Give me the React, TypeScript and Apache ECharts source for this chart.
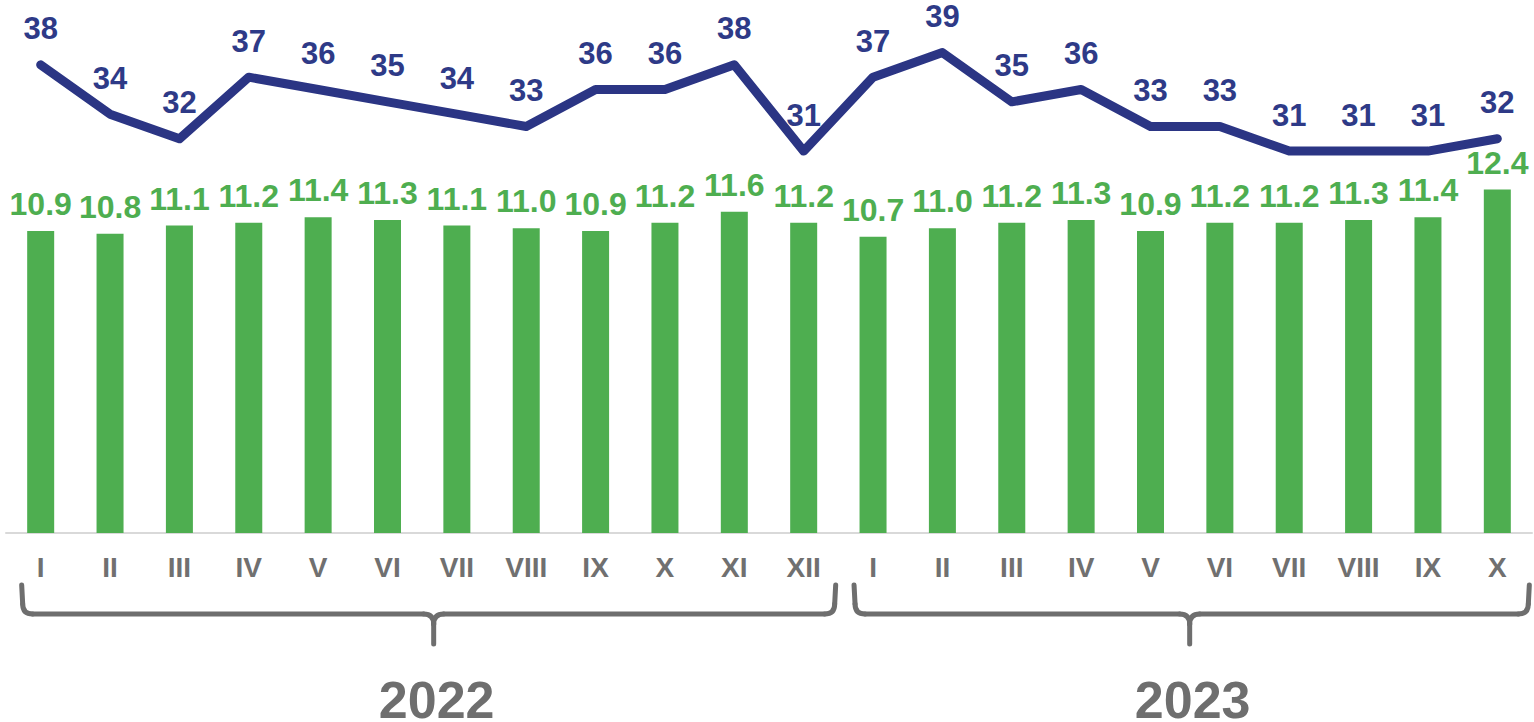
import React, { useEffect, useRef } from "react";
import * as echarts from "echarts";

const months = [
  "I", "II", "III", "IV", "V", "VI", "VII", "VIII", "IX", "X", "XI", "XII",
  "I", "II", "III", "IV", "V", "VI", "VII", "VIII", "IX", "X",
];
const barValues = [
  10.9, 10.8, 11.1, 11.2, 11.4, 11.3, 11.1, 11.0, 10.9, 11.2, 11.6, 11.2,
  10.7, 11.0, 11.2, 11.3, 10.9, 11.2, 11.2, 11.3, 11.4, 12.4,
];
const lineValues = [
  38, 34, 32, 37, 36, 35, 34, 33, 36, 36, 38, 31,
  37, 39, 35, 36, 33, 33, 31, 31, 31, 32,
];
const years = ["2022", "2023"];
const yearRanges = [
  [0, 11],
  [12, 21],
];
const bracketShift = [5, -2];

const FONT = '"Liberation Sans", Arial, sans-serif';
const GREEN = "#4EAE50";
const NAVY = "#2B3584";
const GRAY = "#6E6E6E";

export default function App() {
  const ref = useRef<HTMLDivElement>(null);

  useEffect(() => {
    if (!ref.current) return;
    const chart = echarts.init(ref.current, undefined, { renderer: "svg" });
    chart.setOption({
      animation: false,
      backgroundColor: "#ffffff",
      grid: { left: 6, right: 2, top: 30, bottom: 189, containLabel: false },
      xAxis: {
        type: "category",
        data: months,
        axisLine: { show: true, lineStyle: { color: "#D9D9D9", width: 2 } },
        axisTick: { show: false },
        axisLabel: {
          color: "#707070",
          fontFamily: FONT,
          fontWeight: "bold",
          fontSize: 28,
          margin: 20,
          interval: 0,
        },
      },
      yAxis: [
        { type: "value", min: 0, max: 18.16, show: false, splitLine: { show: false } },
        { type: "value", min: 0, max: 40.83, show: false, splitLine: { show: false } },
      ],
      series: [
        {
          type: "bar",
          data: barValues,
          yAxisIndex: 0,
          barWidth: 27,
          itemStyle: { color: GREEN },
          label: {
            show: true,
            position: "top",
            distance: 11,
            color: GREEN,
            fontFamily: FONT,
            fontWeight: "bold",
            fontSize: 32,
            formatter: (p: any) => Number(p.value).toFixed(1),
          },
        },
        {
          type: "line",
          data: lineValues,
          yAxisIndex: 1,
          symbol: "circle",
          symbolSize: 1,
          showSymbol: true,
          itemStyle: { color: NAVY },
          lineStyle: { color: NAVY, width: 9, cap: "round", join: "round" },
          label: {
            show: true,
            position: "top",
            distance: 20,
            color: "#2E3A87",
            fontFamily: FONT,
            fontWeight: "bold",
            fontSize: 31,
          },
          labelLayout: { hideOverlap: false },
          z: 3,
        },
      ],
    });

    const yTop = 585;
    const yH = 614;
    const yTick = 644;
    const r = 10;
    const st = { stroke: GRAY, lineWidth: 5, fill: "none", lineCap: "round" };
    const graphics: any[] = [];
    yearRanges.forEach(([a, b], i) => {
      const x0 = (chart.convertToPixel({ xAxisIndex: 0 }, a) as number) - 19;
      const x1 = (chart.convertToPixel({ xAxisIndex: 0 }, b) as number) + 32;
      const xc = (x0 + x1) / 2 + bracketShift[i];
      const line = (x1_: number, y1_: number, x2_: number, y2_: number) => ({
        type: "line",
        shape: { x1: x1_, y1: y1_, x2: x2_, y2: y2_ },
        style: st,
        silent: true,
      });
      const curve = (sx: number, sy: number, cx: number, cy: number, ex: number, ey: number) => ({
        type: "bezierCurve",
        shape: { x1: sx, y1: sy, cpx1: cx, cpy1: cy, x2: ex, y2: ey },
        style: st,
        silent: true,
      });
      graphics.push(
        line(x0, yTop, x0 + 1, yH - r),
        curve(x0 + 1, yH - r, x0 + 1, yH, x0 + 1 + r, yH),
        line(x0 + 1 + r, yH, xc - r, yH),
        curve(xc - r, yH, xc, yH, xc, yH + r),
        line(xc, yH + r, xc, yTick),
        curve(xc, yH + r, xc, yH, xc + r, yH),
        line(xc + r, yH, x1 - 1 - r, yH),
        curve(x1 - 1 - r, yH, x1 - 1, yH, x1 - 1, yH - r),
        line(x1 - 1, yH - r, x1, yTop),
        {
          type: "text",
          x: xc + 3,
          y: 700,
          silent: true,
          style: {
            text: years[i],
            fill: GRAY,
            font: `bold 52px ${FONT}`,
            textAlign: "center",
            textVerticalAlign: "middle",
          },
        }
      );
    });
    chart.setOption({ graphic: graphics });

    return () => chart.dispose();
  }, []);

  return (
    <div
      ref={ref}
      style={{ position: "fixed", left: 0, top: 0, width: 1534, height: 722 }}
    />
  );
}
